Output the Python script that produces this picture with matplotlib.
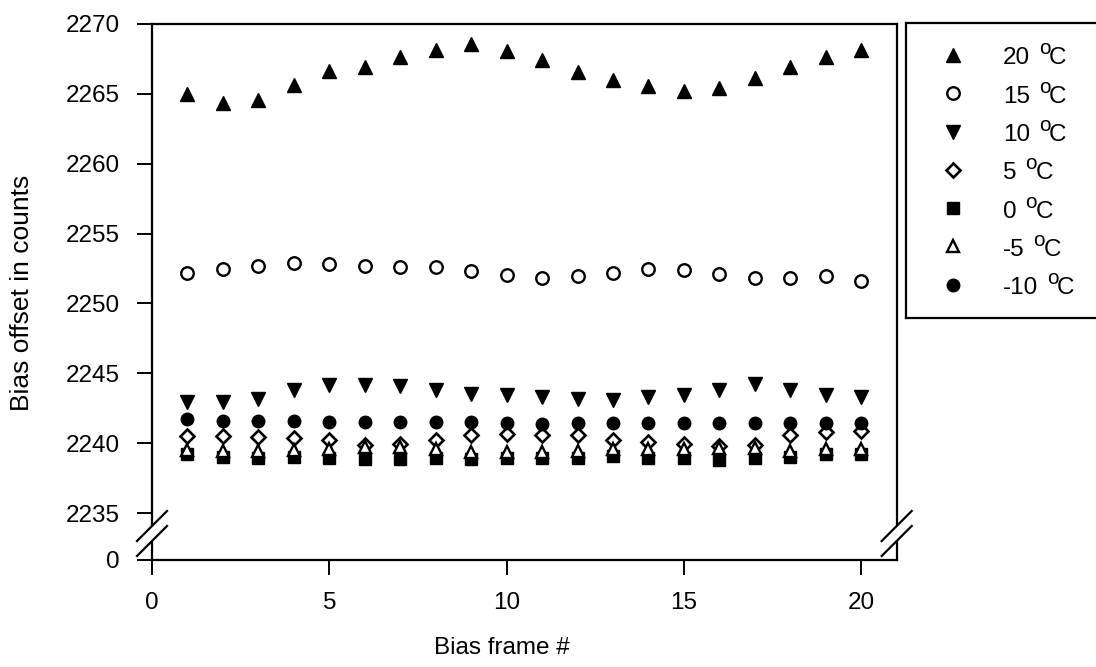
import matplotlib
matplotlib.use('Agg')
import matplotlib.pyplot as plt
from matplotlib.lines import Line2D

plt.rcParams['font.family'] = ['Liberation Sans', 'DejaVu Sans']

# ---------------- data ----------------
frames = list(range(1, 21))
temp_labels = ['20', '15', '10', '5', '0', '-5', '-10']

t20 = [2265.0, 2264.35, 2264.58, 2265.66, 2266.66, 2266.94, 2267.64, 2268.16, 2268.55, 2268.07,
       2267.45, 2266.56, 2266.01, 2265.59, 2265.23, 2265.42, 2266.11, 2266.94, 2267.64, 2268.11]
t15 = [2252.2, 2252.5, 2252.7, 2252.9, 2252.8, 2252.7, 2252.6, 2252.6, 2252.3, 2252.0,
       2251.8, 2251.95, 2252.2, 2252.5, 2252.4, 2252.1, 2251.8, 2251.85, 2251.95, 2251.6]
t10 = [2242.94, 2242.94, 2243.18, 2243.78, 2244.14, 2244.14, 2244.07, 2243.78, 2243.54, 2243.42,
       2243.30, 2243.18, 2243.06, 2243.30, 2243.42, 2243.78, 2244.21, 2243.78, 2243.42, 2243.30]
t5 = [2240.5, 2240.5, 2240.45, 2240.4, 2240.2, 2239.9, 2239.95, 2240.25, 2240.6, 2240.65,
      2240.55, 2240.55, 2240.25, 2240.05, 2239.93, 2239.78, 2239.85, 2240.55, 2240.8, 2240.9]
t0 = [2239.22, 2239.0, 2238.95, 2239.0, 2238.93, 2238.9, 2238.9, 2238.97, 2238.84, 2238.95,
      2238.91, 2238.95, 2239.05, 2238.97, 2238.93, 2238.81, 2238.93, 2239.0, 2239.2, 2239.25]
tm5 = [2239.5, 2239.45, 2239.45, 2239.5, 2239.6, 2239.7, 2239.7, 2239.55, 2239.4, 2239.4,
       2239.4, 2239.45, 2239.55, 2239.55, 2239.6, 2239.65, 2239.65, 2239.45, 2239.55, 2239.6]
tm10 = [2241.75, 2241.6, 2241.55, 2241.55, 2241.5, 2241.5, 2241.5, 2241.5, 2241.5, 2241.45,
        2241.4, 2241.45, 2241.45, 2241.45, 2241.45, 2241.45, 2241.45, 2241.45, 2241.45, 2241.45]
series = [t20, t15, t10, t5, t0, tm5, tm10]

upper_ticks = [2235, 2240, 2245, 2250, 2255, 2260, 2265, 2270]
x_ticks = [0, 5, 10, 15, 20]

# ---------------- styles ----------------
styles = [
    dict(marker='^', ms=10.5, mfc='black', mec='black', mew=1.0),
    dict(marker='o', ms=9.0, mfc='white', mec='black', mew=1.7),
    dict(marker='v', ms=10.5, mfc='black', mec='black', mew=1.0),
    dict(marker='D', ms=7.2, mfc='white', mec='black', mew=1.9),
    dict(marker='s', ms=8.5, mfc='black', mec='black', mew=1.0),
    dict(marker='^', ms=8.0, mfc='white', mec='black', mew=1.7),
    dict(marker='o', ms=9.0, mfc='black', mec='black', mew=1.0),
]

W, H = 1096, 667
FS = 17.5
FS_X = 17.5
FS_Y = 19
fig = plt.figure(figsize=(W / 100, H / 100), dpi=100)

def fx(px):
    return px / W

def fy(py):
    return 1 - py / H

L, R = 152, 896.7
TOP, BREAK_TOP, BREAK_BOT, BOTTOM = 24, 525, 542, 560
PX_PER_UNIT = (513 - 24) / 35.0

ax = fig.add_axes([fx(L), fy(BREAK_TOP), fx(R) - fx(L), fy(TOP) - fy(BREAK_TOP)])
axb = fig.add_axes([fx(L), fy(BOTTOM), fx(R) - fx(L), fy(BREAK_BOT) - fy(BOTTOM)])

ax.set_ylim(2270 - (BREAK_TOP - TOP) / PX_PER_UNIT, 2270)
ax.set_xlim(0, 21)
axb.set_xlim(0, 21)
axb.set_ylim(0, 1)

for vals, st in zip(series, styles):
    ax.plot(frames, vals, linestyle='none', clip_on=False, **st)

lw = 1.6
for a in (ax, axb):
    for s in a.spines.values():
        s.set_linewidth(lw)
ax.spines['bottom'].set_visible(False)
axb.spines['top'].set_visible(False)

ax.set_yticks(upper_ticks)
ax.set_yticklabels([str(v) for v in upper_ticks])
ax.set_xticks([])
ax.tick_params(axis='y', direction='out', length=11, width=1.4, pad=12, labelsize=FS)

axb.set_yticks([0])
axb.set_yticklabels(['0'])
axb.set_xticks(x_ticks)
axb.set_xticklabels([str(v) for v in x_ticks])
axb.tick_params(axis='both', direction='out', length=11, width=1.4, pad=12, labelsize=FS)

# break marks
for sx in (L, R):
    for cy in (BREAK_TOP + 1, BREAK_BOT - 1):
        fig.add_artist(Line2D([fx(sx - 15), fx(sx + 15)], [fy(cy + 15), fy(cy - 15)],
                              transform=fig.transFigure, color='black', lw=1.6))

# axis labels
fig.text(fx(502), fy(648), 'Bias frame #', ha='center', va='center', fontsize=FS_X)
fig.text(fx(22), fy(293), 'Bias offset in counts', ha='center', va='center',
         rotation=90, fontsize=FS_Y)

# legend box
LEG_L, LEG_T, LEG_B = 906, 23, 318
lax = fig.add_axes([fx(LEG_L), fy(LEG_B), fx(W + 20) - fx(LEG_L), fy(LEG_T) - fy(LEG_B)])
lax.set_xlim(LEG_L, W + 20)
lax.set_ylim(LEG_B, LEG_T)
lax.set_xticks([])
lax.set_yticks([])
for s in lax.spines.values():
    s.set_linewidth(lw)
lax.patch.set_alpha(0)

renderer = fig.canvas.get_renderer()
row0, dy = 55, 38.3
for i, (lab, st) in enumerate(zip(temp_labels, styles)):
    y = row0 + i * dy
    lax.plot([953], [y], linestyle='none', clip_on=False, **st)
    base = y + 9.5
    t1 = fig.text(fx(1003), fy(base), lab, fontsize=FS, va='baseline', ha='left')
    bb1 = t1.get_window_extent(renderer)
    t2 = fig.text((bb1.x1 + 9) / W, fy(base - 10), 'o', fontsize=FS * 0.85,
                  va='baseline', ha='left')
    bb2 = t2.get_window_extent(renderer)
    fig.text((bb2.x1 - 1.5) / W, fy(base), 'C', fontsize=FS, va='baseline', ha='left')

fig.savefig('out.png', dpi=100)
